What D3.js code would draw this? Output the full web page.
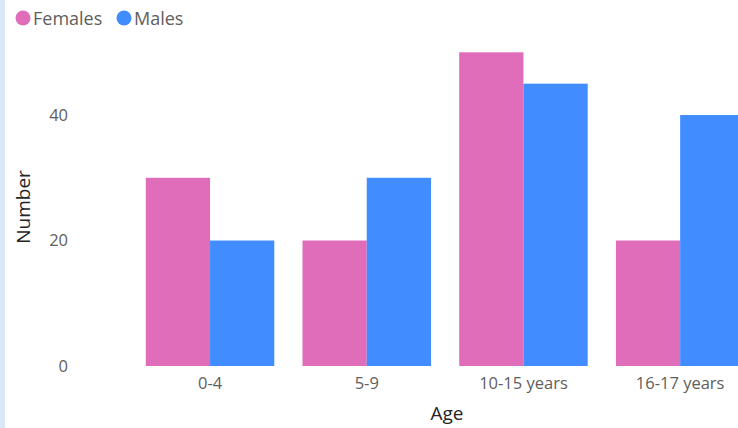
<!DOCTYPE html>
<html><head><meta charset="utf-8">
<script src="https://cdn.jsdelivr.net/npm/d3@7"></script>
<style>body{margin:0;background:#fff;}svg{display:block;font-family:"Open Sans","Noto Sans",sans-serif;}</style>
</head><body>
<svg id="c" width="738" height="428"></svg>
<script>
const categories = ["0-4", "5-9", "10-15 years", "16-17 years"];
const seriesNames = ["Females", "Males"];
const females = [30, 20, 50, 20];
const males = [20, 30, 45, 40];
const yTicks = [0, 20, 40];
const colors = ["#DF6DBA", "#418CFF"];

const svg = d3.select("#c");
svg.append("rect").attr("x",0).attr("y",0).attr("width",5).attr("height",428).attr("fill","#DCE8FA");

const x = d3.scaleBand().domain(categories).range([131.7, 758.5]).paddingInner(0.18).paddingOuter(0.09);
const xs = d3.scaleBand().domain(seriesNames).range([0, x.bandwidth()]);
const y = d3.scaleLinear().domain([0, 50]).range([366, 52.3]);

const data = categories.map((c,i)=>({c, vals:[females[i], males[i]]}));
const g = svg.append("g");
data.forEach(d=>{
  d.vals.forEach((v,j)=>{
    g.append("rect").attr("x", x(d.c)+xs(seriesNames[j])).attr("y", y(v))
      .attr("width", xs.bandwidth()).attr("height", y(0)-y(v)).attr("fill", colors[j]);
  });
});

const ya = svg.append("g").attr("transform","translate(68,0)")
  .call(d3.axisLeft(y).tickValues(yTicks).tickSize(0).tickPadding(0));
ya.select(".domain").remove();
ya.selectAll("text").attr("fill","#605E5C").style("font-size","16.5px").style("font-family","'Open Sans','Noto Sans',sans-serif");

const xa = svg.append("g").attr("transform","translate(0,366)")
  .call(d3.axisBottom(x).tickSize(0).tickPadding(11));
xa.select(".domain").remove();
xa.selectAll("text").attr("fill","#605E5C").style("font-size","16.5px").style("font-family","'Open Sans','Noto Sans',sans-serif");

svg.append("text").attr("x",447).attr("y",420).attr("text-anchor","middle")
  .attr("fill","#252423").style("font-size","19px").text("Age");
svg.append("text").attr("transform","translate(30,207) rotate(-90)").attr("text-anchor","middle")
  .attr("fill","#252423").style("font-size","19px").text("Number");

const leg = [{n:"Females",cx:23,tx:33},{n:"Males",cx:124,tx:134}];
leg.forEach((l,i)=>{
  svg.append("circle").attr("cx",l.cx).attr("cy",18).attr("r",7.5).attr("fill",colors[i]);
  svg.append("text").attr("x",l.tx).attr("y",25).attr("fill","#605E5C").style("font-size","18px").text(l.n);
});
</script>
</body></html>
